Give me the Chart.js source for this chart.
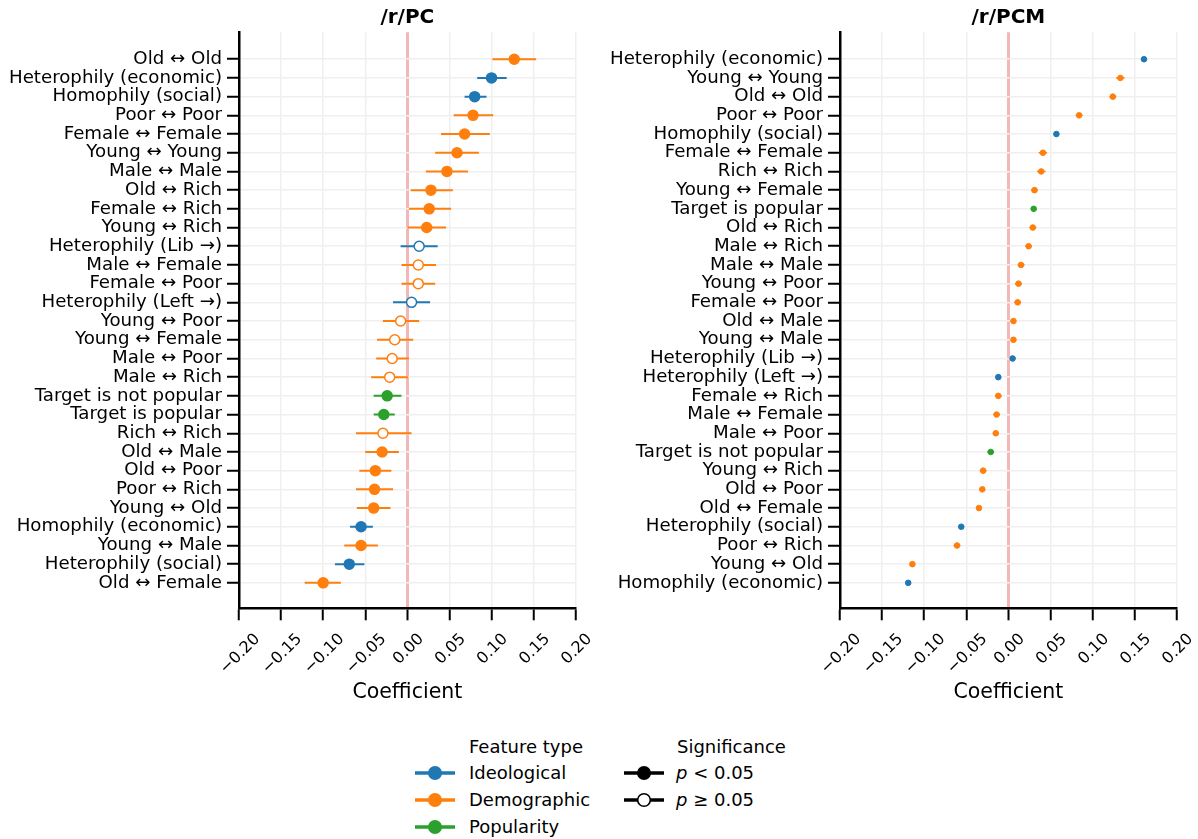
<!DOCTYPE html>
<html><head><meta charset="utf-8">
<script src="https://cdn.jsdelivr.net/npm/chart.js@4.4.1/dist/chart.umd.min.js"></script>
<style>
html,body{margin:0;padding:0;background:#fff;}
#wrap{position:relative;width:1198px;height:839px;overflow:hidden;font-family:'DejaVu Sans',sans-serif;color:#000;}
canvas{position:absolute;top:0;}
#c1{left:0;}
#c2{left:600px;}
.lg{position:absolute;font-size:18px;line-height:18px;white-space:nowrap;}
svg{position:absolute;}
</style></head>
<body>
<div id="wrap">
<canvas id="c1" width="600" height="720"></canvas>
<canvas id="c2" width="598" height="720"></canvas>

<div class="lg" style="left:469px;top:738px;">Feature type</div>
<svg style="left:413px;top:763px" width="44" height="20"><line x1="2" y1="10" x2="42" y2="10" stroke="#1f77b4" stroke-width="3.5"/><circle cx="22" cy="10" r="7" fill="#1f77b4"/></svg>
<div class="lg" style="left:469px;top:764px;">Ideological</div>
<svg style="left:413px;top:790px" width="44" height="20"><line x1="2" y1="10" x2="42" y2="10" stroke="#ff7f0e" stroke-width="3.5"/><circle cx="22" cy="10" r="7" fill="#ff7f0e"/></svg>
<div class="lg" style="left:469px;top:791px;">Demographic</div>
<svg style="left:413px;top:817px" width="44" height="20"><line x1="2" y1="10" x2="42" y2="10" stroke="#2ca02c" stroke-width="3.5"/><circle cx="22" cy="10" r="7" fill="#2ca02c"/></svg>
<div class="lg" style="left:469px;top:818px;">Popularity</div>

<div class="lg" style="left:677px;top:738px;">Significance</div>
<svg style="left:622px;top:763px" width="44" height="20"><line x1="2" y1="10" x2="42" y2="10" stroke="#000" stroke-width="3.5"/><circle cx="22" cy="10" r="7" fill="#000"/></svg>
<div class="lg" style="left:676px;top:764px;"><i>p</i> &lt; 0.05</div>
<svg style="left:622px;top:790px" width="44" height="20"><line x1="2" y1="10" x2="42" y2="10" stroke="#000" stroke-width="3.5"/><circle cx="22" cy="10" r="6.3" fill="#fff" stroke="#000" stroke-width="1.6"/></svg>
<div class="lg" style="left:676px;top:791px;"><i>p</i> ≥ 0.05</div>
</div>

<script>
// ---------- data ----------
const xTickValues = [-0.2, -0.15, -0.1, -0.05, 0, 0.05, 0.1, 0.15, 0.2];
const xTickLabels = ['−0.20', '−0.15', '−0.10', '−0.05', '0.00', '0.05', '0.10', '0.15', '0.20'];

// /r/PC
const pcLabels = ['Old ↔ Old', 'Heterophily (economic)', 'Homophily (social)', 'Poor ↔ Poor', 'Female ↔ Female',
  'Young ↔ Young', 'Male ↔ Male', 'Old ↔ Rich', 'Female ↔ Rich', 'Young ↔ Rich', 'Heterophily (Lib →)',
  'Male ↔ Female', 'Female ↔ Poor', 'Heterophily (Left →)', 'Young ↔ Poor', 'Young ↔ Female', 'Male ↔ Poor',
  'Male ↔ Rich', 'Target is not popular', 'Target is popular', 'Rich ↔ Rich', 'Old ↔ Male', 'Old ↔ Poor',
  'Poor ↔ Rich', 'Young ↔ Old', 'Homophily (economic)', 'Young ↔ Male', 'Heterophily (social)', 'Old ↔ Female'];
const pcCoef = [0.127, 0.100, 0.080, 0.078, 0.068, 0.059, 0.047, 0.028, 0.026, 0.023, 0.014, 0.013, 0.013, 0.005,
  -0.008, -0.015, -0.018, -0.021, -0.024, -0.028, -0.029, -0.030, -0.038, -0.039, -0.040, -0.055, -0.055, -0.069, -0.100];
const pcLow = [0.101, 0.083, 0.068, 0.055, 0.040, 0.033, 0.022, 0.004, 0.002, 0.000, -0.008, -0.007, -0.007, -0.017,
  -0.029, -0.036, -0.037, -0.043, -0.040, -0.040, -0.061, -0.050, -0.057, -0.061, -0.060, -0.068, -0.075, -0.086, -0.122];
const pcHigh = [0.153, 0.118, 0.094, 0.102, 0.098, 0.085, 0.072, 0.054, 0.052, 0.046, 0.036, 0.034, 0.033, 0.027,
  0.014, 0.007, 0.002, 0.001, -0.007, -0.015, 0.005, -0.010, -0.019, -0.017, -0.020, -0.041, -0.035, -0.051, -0.079];
const pcType = ['D', 'I', 'I', 'D', 'D', 'D', 'D', 'D', 'D', 'D', 'I', 'D', 'D', 'I', 'D', 'D', 'D', 'D', 'P', 'P',
  'D', 'D', 'D', 'D', 'D', 'I', 'D', 'I', 'D'];
const pcSig = [1, 1, 1, 1, 1, 1, 1, 1, 1, 1, 0, 0, 0, 0, 0, 0, 0, 0, 1, 1, 0, 1, 1, 1, 1, 1, 1, 1, 1];

// /r/PCM
const pcmLabels = ['Heterophily (economic)', 'Young ↔ Young', 'Old ↔ Old', 'Poor ↔ Poor', 'Homophily (social)',
  'Female ↔ Female', 'Rich ↔ Rich', 'Young ↔ Female', 'Target is popular', 'Old ↔ Rich', 'Male ↔ Rich',
  'Male ↔ Male', 'Young ↔ Poor', 'Female ↔ Poor', 'Old ↔ Male', 'Young ↔ Male', 'Heterophily (Lib →)',
  'Heterophily (Left →)', 'Female ↔ Rich', 'Male ↔ Female', 'Male ↔ Poor', 'Target is not popular',
  'Young ↔ Rich', 'Old ↔ Poor', 'Old ↔ Female', 'Heterophily (social)', 'Poor ↔ Rich', 'Young ↔ Old',
  'Homophily (economic)'];
const pcmCoef = [0.161, 0.133, 0.124, 0.084, 0.057, 0.041, 0.039, 0.031, 0.030, 0.029, 0.024, 0.015, 0.012, 0.011,
  0.006, 0.006, 0.005, -0.012, -0.012, -0.014, -0.015, -0.021, -0.030, -0.031, -0.035, -0.056, -0.061, -0.114, -0.119];
const pcmLow = [0.159, 0.128, 0.120, 0.080, 0.055, 0.036, 0.034, 0.027, 0.027, 0.025, 0.020, 0.011, 0.008, 0.007,
  0.003, 0.003, 0.002, -0.015, -0.016, -0.018, -0.018, -0.025, -0.034, -0.034, -0.038, -0.058, -0.065, -0.117, -0.121];
const pcmHigh = [0.163, 0.138, 0.128, 0.088, 0.059, 0.046, 0.044, 0.035, 0.033, 0.033, 0.028, 0.019, 0.016, 0.015,
  0.009, 0.009, 0.008, -0.009, -0.008, -0.010, -0.012, -0.017, -0.026, -0.028, -0.032, -0.054, -0.057, -0.111, -0.117];
const pcmType = ['I', 'D', 'D', 'D', 'I', 'D', 'D', 'D', 'P', 'D', 'D', 'D', 'D', 'D', 'D', 'D', 'I', 'I', 'D', 'D',
  'D', 'P', 'D', 'D', 'D', 'I', 'D', 'D', 'I'];
const pcmSig = [1, 1, 1, 1, 1, 1, 1, 1, 1, 1, 1, 1, 1, 1, 1, 1, 1, 1, 1, 1, 1, 1, 1, 1, 1, 1, 1, 1, 1];

// ---------- drawing ----------
const FONT = "'DejaVu Sans', sans-serif";
const COLORS = { I: '#1f77b4', D: '#ff7f0e', P: '#2ca02c' };
const GRID = '#efefef';
const ZERO = '#f2b8b8';
const XTICK_SIZE = 16;

// rotated x tick labels centred on their ticks (matplotlib rotation=45, ha='center')
const centredRotatedTicks = {
  id: 'centredRotatedTicks',
  afterDraw(chart) {
    const s = chart.scales.x;
    const ctx = chart.ctx;
    ctx.save();
    ctx.font = XTICK_SIZE + "px 'DejaVu Sans'";
    ctx.fillStyle = '#000';
    ctx.textAlign = 'left';
    ctx.textBaseline = 'alphabetic';
    const inkH = 0.73 * XTICK_SIZE;
    s.ticks.forEach((t, i) => {
      const txt = xTickLabels[i];
      const L = ctx.measureText(txt).width;
      const E = (L + inkH) / Math.SQRT2;
      const cx = s.getPixelForValue(t.value);
      const cy = s.top + 23 + E / 2;
      ctx.save();
      ctx.translate(cx, cy);
      ctx.rotate(-Math.PI / 4);
      ctx.fillText(txt, -L / 2, inkH / 2);
      ctx.restore();
    });
    ctx.restore();
  }
};

function panel(canvasId, title, labels, coef, low, high, types, sig, cfg) {
  const n = labels.length;
  const colorOf = i => COLORS[types[i]];
  const pts = coef.map((v, i) => ({ x: v, y: i }));
  const bars = [];
  for (let i = 0; i < n; i++) {
    bars.push({ x: low[i], y: i }, { x: high[i], y: i }, { x: null, y: null });
  }
  const isZero = c => c.tick && Math.abs(c.tick.value) < 1e-9;
  new Chart(document.getElementById(canvasId), {
    type: 'scatter',
    plugins: [centredRotatedTicks],
    data: {
      datasets: [
        {
          data: pts,
          pointRadius: cfg.r, pointHoverRadius: cfg.r, pointBorderWidth: cfg.bw,
          pointBackgroundColor: coef.map((v, i) => sig[i] ? colorOf(i) : '#ffffff'),
          pointBorderColor: coef.map((v, i) => colorOf(i))
        },
        {
          data: bars, showLine: true, spanGaps: false,
          pointRadius: 0, pointHoverRadius: 0,
          borderWidth: cfg.ew, borderColor: '#000',
          segment: { borderColor: ctx => colorOf(Math.floor(ctx.p0DataIndex / 3)) }
        }
      ]
    },
    options: {
      responsive: false, animation: false, events: [],
      layout: { padding: { left: 0, right: cfg.padRight, top: 0, bottom: 0 } },
      plugins: {
        legend: { display: false }, tooltip: { enabled: false },
        title: {
          display: true, fullSize: false, align: 'center', text: title, color: '#000',
          font: { family: FONT, size: 20, weight: 'bold', lineHeight: 1.2 },
          padding: { top: 5.5, bottom: 2.8 }
        }
      },
      scales: {
        x: {
          type: 'linear', min: -0.2, max: 0.2,
          afterBuildTicks: s => { s.ticks = xTickValues.map(v => ({ value: v })); },
          afterFit: s => { s.height = 111.7; },
          ticks: { display: false, autoSkip: false },
          grid: {
            color: c => isZero(c) ? ZERO : GRID,
            lineWidth: c => isZero(c) ? 3 : 1.5,
            tickColor: '#000', tickLength: 12, tickWidth: 2
          },
          border: { color: '#000', width: 2.5 },
          title: {
            display: true, text: 'Coefficient', color: '#000',
            font: { family: FONT, size: 20.5, lineHeight: 1.2 },
            padding: { top: 0, bottom: 14.7 }
          }
        },
        y: {
          type: 'linear', reverse: true, min: -1.44, max: n - 1 + 1.36,
          afterBuildTicks: s => { s.ticks = labels.map((l, i) => ({ value: i })); },
          afterFit: s => { s.width = cfg.yWidth; },
          ticks: {
            autoSkip: false, padding: 5,
            font: { family: FONT, size: 18.2 }, color: '#000',
            callback: v => labels[v]
          },
          grid: { color: GRID, lineWidth: 1.5, tickColor: '#000', tickLength: 12, tickWidth: 2 },
          border: { color: '#000', width: 2.5 }
        }
      }
    }
  });
}

panel('c1', '/r/PC', pcLabels, pcCoef, pcLow, pcHigh, pcType, pcSig,
  { r: 5, bw: 1.5, ew: 2, yWidth: 239, padRight: 24.3 });
panel('c2', '/r/PCM', pcmLabels, pcmCoef, pcmLow, pcmHigh, pcmType, pcmSig,
  { r: 2.8, bw: 1, ew: 1.5, yWidth: 240, padRight: 21.2 });
</script>
</body></html>
